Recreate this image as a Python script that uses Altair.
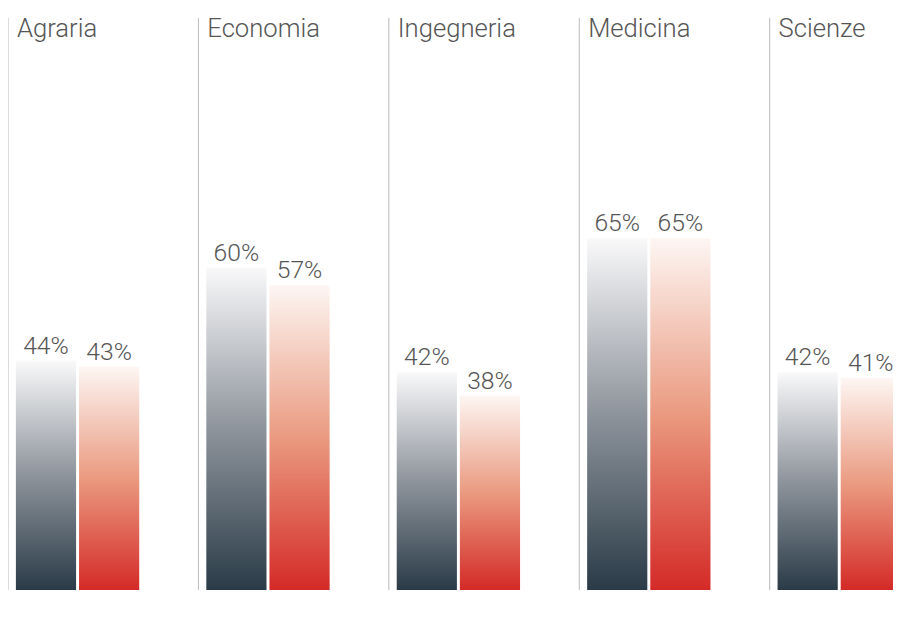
import altair as alt
import pandas as pd

categories = ["Agraria", "Economia", "Ingegneria", "Medicina", "Scienze"]
groups = ["Serie 1", "Serie 2"]
serie1 = [44, 60, 42, 65, 42]
serie2 = [43, 57, 38, 65, 41]

rows = []
for c, a, b in zip(categories, serie1, serie2):
    rows.append({"cat": c, "group": groups[0], "v": a, "label": f"{a}%"})
    rows.append({"cat": c, "group": groups[1], "v": b, "label": f"{b}%"})
df = pd.DataFrame(rows)

FONT = "Roboto"
TXT = "#555555"
grad_gray = alt.Gradient(
    gradient="linear", x1=0, x2=0, y1=0, y2=1,
    stops=[alt.GradientStop(color="#f9f9fa", offset=0),
           alt.GradientStop(color="#8e949c", offset=0.5),
           alt.GradientStop(color="#2a3b47", offset=1)],
)
grad_red = alt.Gradient(
    gradient="linear", x1=0, x2=0, y1=0, y2=1,
    stops=[alt.GradientStop(color="#fdf6f3", offset=0),
           alt.GradientStop(color="#ea9a80", offset=0.5),
           alt.GradientStop(color="#d42a27", offset=1)],
)

STEP = 192
H = 580
PX = 5.9            # pixels per percentage point
YMAX = 607 / PX
YMIN = (607 - H) / PX
xscale = alt.Scale(domain=groups, range=[0, STEP], paddingInner=3 / 64,
                   paddingOuter=0.5234, align=0.1194)
yscale = alt.Scale(domain=[YMIN, YMAX], nice=False, zero=False)

panels = []
for i, cat in enumerate(categories):
    last = i == len(categories) - 1
    base = alt.Chart(df).transform_filter(alt.datum.cat == cat)
    x = alt.X("group:N", scale=xscale, axis=None)
    y = alt.Y("v:Q", scale=yscale, axis=None)
    first = base.transform_filter(alt.datum.group == groups[0])
    rule = first.mark_rule(color="#b9b9b9", strokeWidth=1).encode(
        x=alt.value(0), y=alt.value(0), y2=alt.value(H))
    bars1 = first.mark_bar(color=grad_gray).encode(
        x=x, y=y, y2=alt.datum(YMIN))
    bars2 = base.transform_filter(alt.datum.group == groups[1]).mark_bar(
        color=grad_red).encode(x=x, y=y, y2=alt.datum(YMIN))
    labels = base.mark_text(font=FONT, fontSize=25, fontWeight=300, color=TXT,
                            baseline="alphabetic", dy=-7).encode(
        x=x, y=y, text="label:N")
    title = first.mark_text(font=FONT, fontSize=26, fontWeight=300, color=TXT,
                            align="left", baseline="alphabetic").encode(
        x=alt.value(9), y=alt.value(19), text="cat:N")
    w = STEP if not last else 126
    panels.append(alt.layer(rule, bars1, bars2, labels, title).properties(width=w, height=H))

chart = alt.hconcat(*panels, spacing=0).properties(
    padding={"left": -1, "top": 4, "right": -9, "bottom": 0}
).configure_view(strokeWidth=0).configure_concat(spacing=0)

chart.save("out.html", embed_options={"renderer": "svg", "actions": False})
